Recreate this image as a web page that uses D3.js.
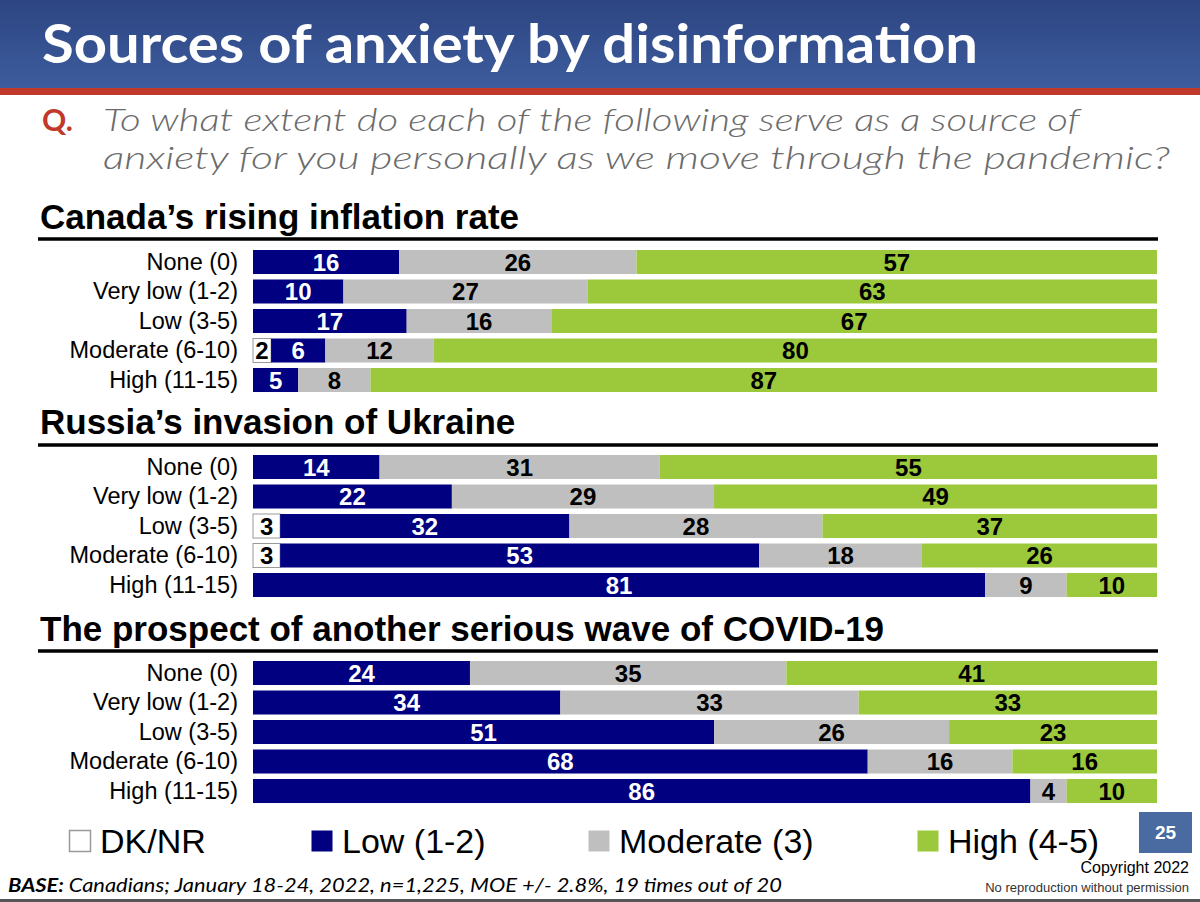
<!DOCTYPE html>
<html>
<head>
<meta charset="utf-8">
<script src="https://cdn.jsdelivr.net/npm/d3@7"></script>
<style>
  html, body { margin: 0; padding: 0; background: #fff; }
  svg { display: block; }
</style>
</head>
<body>
<svg id="chart" width="1200" height="902"></svg>
<script>
// ---------- DATA ----------
const categories = ["None (0)", "Very low (1-2)", "Low (3-5)", "Moderate (6-10)", "High (11-15)"];
const seriesNames = ["DK/NR", "Low (1-2)", "Moderate (3)", "High (4-5)"];
const panelTitles = ["Canada\u2019s rising inflation rate", "Russia\u2019s invasion of Ukraine", "The prospect of another serious wave of COVID-19"];

const inflationDK   = [0, 0, 0, 2, 0];
const inflationLow  = [16, 10, 17, 6, 5];
const inflationMod  = [26, 27, 16, 12, 8];
const inflationHigh = [57, 63, 67, 80, 87];

const ukraineDK   = [0, 0, 3, 3, 0];
const ukraineLow  = [14, 22, 32, 53, 81];
const ukraineMod  = [31, 29, 28, 18, 9];
const ukraineHigh = [55, 49, 37, 26, 10];

const covidDK   = [0, 0, 0, 0, 0];
const covidLow  = [24, 34, 51, 68, 86];
const covidMod  = [35, 33, 26, 16, 4];
const covidHigh = [41, 33, 23, 16, 10];

const panels = [
  [inflationDK, inflationLow, inflationMod, inflationHigh],
  [ukraineDK, ukraineLow, ukraineMod, ukraineHigh],
  [covidDK, covidLow, covidMod, covidHigh]
];

// ---------- STYLE ----------
const colors = ["#ffffff", "#000080", "#bfbfbf", "#9bc93b"];
const labelColors = ["#000", "#fff", "#000", "#000"];
const svg = d3.select("#chart");

// header
const defs = svg.append("defs");
const grad = defs.append("linearGradient").attr("id", "hdr").attr("x1", 0).attr("y1", 0).attr("x2", 0).attr("y2", 1);
grad.append("stop").attr("offset", "0%").attr("stop-color", "#2d4582");
grad.append("stop").attr("offset", "100%").attr("stop-color", "#3d5c9d");
svg.append("rect").attr("x", 0).attr("y", 0).attr("width", 1200).attr("height", 88).attr("fill", "url(#hdr)");
svg.append("rect").attr("x", 0).attr("y", 88).attr("width", 1200).attr("height", 7).attr("fill", "#c0392b");

svg.append("text").attr("x", 42).attr("y", 63)
  .attr("font-family", "Lato, 'DejaVu Sans', sans-serif").attr("font-weight", "bold")
  .attr("font-size", 54).attr("fill", "#fff")
  .attr("textLength", 936).attr("lengthAdjust", "spacingAndGlyphs")
  .text("Sources of anxiety by disinformation");

svg.append("text").attr("x", 42).attr("y", 131)
  .attr("font-family", "Lato, sans-serif").attr("font-weight", "bold")
  .attr("font-size", 30).attr("fill", "#c0392b").text("Q.");
const qLines = ["To what extent do each of the following serve as a source of",
                "anxiety for you personally as we move through the pandemic?"];
const qWidths = [977, 1067];
qLines.forEach((t, i) => {
  svg.append("text").attr("x", 103).attr("y", 131 + i * 38)
    .attr("font-family", "Lato, 'Open Sans', sans-serif").attr("font-style", "italic")
    .attr("font-weight", 300)
    .attr("font-size", 32).attr("fill", "#6b6b6b")
    .attr("textLength", qWidths[i]).attr("lengthAdjust", "spacingAndGlyphs")
    .text(t);
});

// scales
const x = d3.scaleLinear().domain([0, 100]).range([253, 1157]);
const panelTops = [250, 455, 661];
const titleBaselines = [229, 434, 641];
const ruleYs = [239, 445, 651];

panels.forEach((series, p) => {
  const g = svg.append("g");
  const step = 29.5;
  const y = d3.scaleBand().domain(categories)
    .range([panelTops[p] - 0.093 * step, panelTops[p] - 0.093 * step + 5 * step])
    .paddingInner(0.186).paddingOuter(0.093);

  g.append("text").attr("x", 40).attr("y", titleBaselines[p])
    .attr("font-family", "'Liberation Sans', Arial, sans-serif").attr("font-weight", "bold")
    .attr("font-size", 35).attr("fill", "#000").text(panelTitles[p]);
  g.append("line").attr("x1", 38).attr("x2", 1158).attr("y1", ruleYs[p]).attr("y2", ruleYs[p])
    .attr("stroke", "#000").attr("stroke-width", 3.5);

  // y axis labels
  const axis = d3.axisLeft(y).tickSize(0).tickPadding(15);
  const ag = g.append("g").attr("transform", `translate(${253},0)`).call(axis);
  ag.select(".domain").remove();
  ag.selectAll("text").attr("font-family", "'Liberation Sans', Arial, sans-serif")
    .attr("font-size", 23.5).attr("fill", "#000");

  categories.forEach((cat, r) => {
    const vals = series.map(s => s[r]);
    const total = d3.sum(vals);
    let cum = 0;
    vals.forEach((v, k) => {
      const x0 = x(cum / total * 100);
      const x1 = x((cum + v) / total * 100);
      cum += v;
      if (v <= 0) return;
      g.append("rect").attr("x", x0).attr("y", y(cat))
        .attr("width", x1 - x0).attr("height", y.bandwidth())
        .attr("fill", colors[k])
        .attr("stroke", k === 0 ? "#999" : "none").attr("stroke-width", 1);
      g.append("text").attr("x", (x0 + x1) / 2).attr("y", y(cat) + y.bandwidth() / 2 + 8.5)
        .attr("text-anchor", "middle")
        .attr("font-family", "'Liberation Sans', Arial, sans-serif").attr("font-weight", "bold")
        .attr("font-size", 24).attr("fill", labelColors[k]).text(v);
    });
  });
});

// legend
const legendX = [69, 311, 588, 917];
seriesNames.forEach((n, i) => {
  svg.append("rect").attr("x", legendX[i] + 0.5).attr("y", 830.5).attr("width", 21).attr("height", 21)
    .attr("fill", colors[i]).attr("stroke", i === 0 ? "#999" : "none").attr("stroke-width", 1.5);
  svg.append("text").attr("x", legendX[i] + 31).attr("y", 853)
    .attr("font-family", "'Liberation Sans', Arial, sans-serif").attr("font-size", 34)
    .attr("fill", "#000").text(n);
});

// page number
svg.append("rect").attr("x", 1139).attr("y", 812).attr("width", 53).attr("height", 41).attr("fill", "#4a6aa2");
svg.append("text").attr("x", 1165.5).attr("y", 839).attr("text-anchor", "middle")
  .attr("font-family", "'Liberation Sans', Arial, sans-serif").attr("font-weight", "bold")
  .attr("font-size", 19).attr("fill", "#fff").text("25");

svg.append("text").attr("x", 1189).attr("y", 873).attr("text-anchor", "end")
  .attr("font-family", "'Liberation Sans', Arial, sans-serif").attr("font-size", 16)
  .attr("fill", "#000").text("Copyright 2022");
svg.append("text").attr("x", 1189).attr("y", 892).attr("text-anchor", "end")
  .attr("font-family", "'Liberation Sans', Arial, sans-serif").attr("font-size", 13)
  .attr("fill", "#333").text("No reproduction without permission");

// base
const base = svg.append("text").attr("x", 8).attr("y", 892)
  .attr("font-family", "Lato, sans-serif").attr("font-style", "italic").attr("font-size", 19)
  .attr("fill", "#000").attr("textLength", 774).attr("lengthAdjust", "spacingAndGlyphs");
base.append("tspan").attr("font-weight", "bold").text("BASE: ");
base.append("tspan").text("Canadians; January 18-24, 2022, n=1,225, MOE +/- 2.8%, 19 times out of 20");

svg.append("rect").attr("x", 0).attr("y", 899).attr("width", 1200).attr("height", 3).attr("fill", "#555");
</script>
</body>
</html>
